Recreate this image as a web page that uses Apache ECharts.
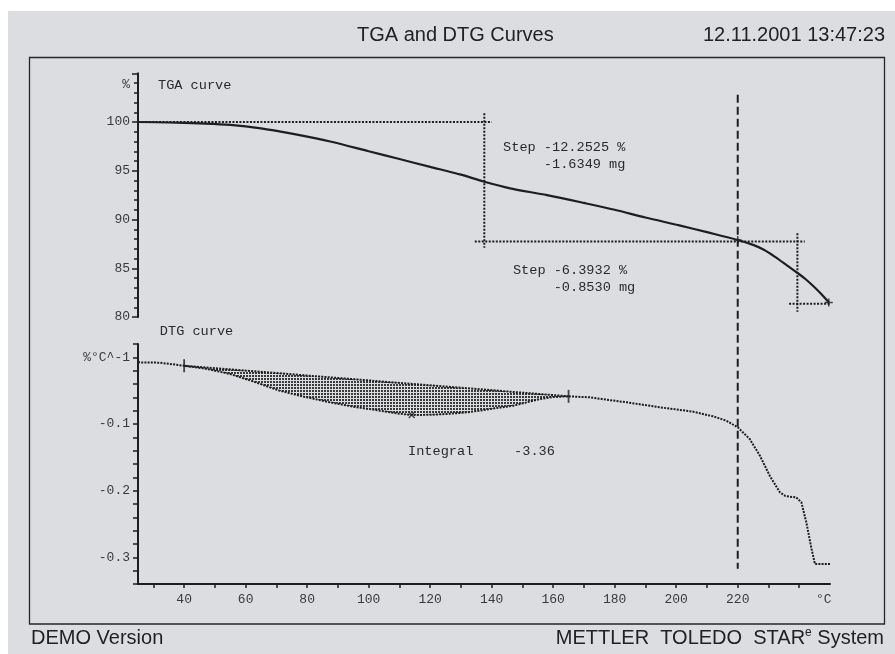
<!DOCTYPE html>
<html>
<head>
<meta charset="utf-8">
<script src="https://cdn.jsdelivr.net/npm/echarts@6/dist/echarts.min.js"></script>
<style>
  html, body { margin: 0; padding: 0; background: #ffffff; }
  #c { width: 895px; height: 654px; }
</style>
</head>
<body>
<div id="c"></div>
<script>
// ---- TGA curve: sample temperature (°C) vs. remaining mass (%)
const tgaTemp = [25, 35, 45, 55, 65, 75, 87.5, 100, 110, 120, 130, 137.3, 146, 158, 170, 180, 190, 201, 210, 220, 225, 228.5, 232, 236, 239.5, 242, 244.8, 247, 249.6];
const tgaMass = [100.0, 99.95, 99.85, 99.7, 99.35, 98.8, 98.0, 97.0, 96.2, 95.4, 94.6, 93.9, 93.2, 92.5, 91.7, 91.0, 90.2, 89.4, 88.7, 87.9, 87.4, 86.9, 86.2, 85.3, 84.5, 83.9, 83.1, 82.4, 81.5];

// ---- DTG curve: temperature (°C) vs. rate of mass change (% °C^-1)
const dtgTemp = [25, 32, 40, 47, 55, 63, 71, 79, 87.4, 95, 103.6, 110, 114, 120, 125.3, 131, 136, 141, 147, 151, 155.6, 160, 165, 172, 178, 184, 194.7, 205.5, 212, 216.3, 220, 223.9, 227.2, 230.4, 233.7, 235.5, 237, 239, 240.7, 242.3, 244, 245.1, 250];
const dtgRate = [-0.0075, -0.008, -0.0126, -0.017, -0.025, -0.037, -0.050, -0.059, -0.0675, -0.074, -0.080, -0.0845, -0.0865, -0.0862, -0.085, -0.083, -0.080, -0.0765, -0.0725, -0.068, -0.0625, -0.0595, -0.0585, -0.060, -0.064, -0.0675, -0.075, -0.0815, -0.0885, -0.095, -0.105, -0.1225, -0.1475, -0.1775, -0.2025, -0.208, -0.209, -0.210, -0.2175, -0.2475, -0.2875, -0.31, -0.31];

// ---- evaluation results
const integralLimits = [40, 165];          // integration range on the DTG peak (°C)
const dtgPeak = [[114, -0.0865]];          // peak marker
const tgaStepLines = [                      // step evaluation construction lines [°C, %]
  [[22.7, 100], [140, 100]],
  [[137.6, 100.9], [137.6, 87.1]],
  [[134.5, 87.75], [241.8, 87.75]],
  [[239.4, 88.6], [239.4, 80.55]],
  [[236.7, 81.36], [252.6, 81.36]]
];
const tgaMarks = [[220, 87.9], [249.6, 81.5]];
const cursorTemp = 220;                     // vertical cursor
const cursorTop = 102.8;                    // in % (TGA scale)
const cursorBottom = -0.317;                // in % °C^-1 (DTG scale)

// ---- tick values and labels
const xTickValues = [30, 40, 50, 60, 70, 80, 90, 100, 110, 120, 130, 140, 150, 160, 170, 180, 190, 200, 210, 220, 230, 240];
const xTickLabels = [40, 60, 80, 100, 120, 140, 160, 180, 200, 220];
const xUnitPos = 248;
const tgaTickLabels = [80, 85, 90, 95, 100];
const dtgTickLabels = [-0.1, -0.2, -0.3];

// ---- annotation texts, anchored in data coordinates
const stepTexts = [
  { grid: 0, at: [143.7, 97.44], text: 'Step -12.2525 %\n     -1.6349 mg' },
  { grid: 0, at: [146.9, 84.82], text: 'Step -6.3932 %\n     -0.8530 mg' }
];
const panelTitles = [
  { grid: 0, at: [31.5, 103.8], text: 'TGA curve' },
  { grid: 1, at: [32.1, 0.0394], text: 'DTG curve' },
  { grid: 1, at: [112.8, -0.1415], text: 'Integral     -3.36' }
];

const MONO = '"Liberation Mono", "DejaVu Sans Mono", monospace';
const SANS = '"Liberation Sans", Arial, sans-serif';
const INK = '#1e1e1e';
const LABEL = '#3a3a3a';

const pairs = (xs, ys) => xs.map((x, i) => [x, ys[i]]);
const tgaPts = pairs(tgaTemp, tgaMass);
const dtgPts = pairs(dtgTemp, dtgRate);
const areaPts = dtgPts.filter(p => p[0] >= integralLimits[0] && p[0] <= integralLimits[1]);
const baseline = [areaPts[0], areaPts[areaPts.length - 1]];

// halftone dot pattern for the integrated area
const dots = document.createElement('canvas');
dots.width = 3; dots.height = 3;
const dctx = dots.getContext('2d');
dctx.fillStyle = '#3a3a3a';
dctx.fillRect(0, 0, 2, 2);
const dotFill = { image: dots, repeat: 'repeat' };

const chart = echarts.init(document.getElementById('c'), null, { renderer: 'canvas' });

const tickStyle = { color: INK, width: 1.5 };
const labelStyle = { fontFamily: MONO, fontSize: 13, color: LABEL };

const stepSeries = tgaStepLines.map((seg, i) => ({
  type: 'line', name: 'step' + i, xAxisIndex: 0, yAxisIndex: 0,
  data: seg, showSymbol: false, clip: false, silent: true, z: 3,
  lineStyle: { color: INK, width: 2, type: [2, 1.5] }
}));

chart.setOption({
  animation: false,
  backgroundColor: 'transparent',
  grid: [
    { left: 138, width: 692, top: 73.25, height: 243.75, containLabel: false, outerBoundsMode: 'none' },
    { left: 138, width: 692, top: 344, height: 240, containLabel: false, outerBoundsMode: 'none' }
  ],
  xAxis: [
    { gridIndex: 0, type: 'value', min: 25, max: 250, show: false },
    {
      gridIndex: 1, type: 'value', min: 25, max: 250, position: 'bottom',
      axisLine: { show: true, onZero: false, lineStyle: { color: INK, width: 2 } },
      axisTick: { show: true, customValues: xTickValues, length: 4, lineStyle: tickStyle },
      axisLabel: Object.assign({
        customValues: xTickLabels.concat([xUnitPos]),
        formatter: v => (v === xUnitPos ? '°C' : String(v)),
        margin: 9
      }, labelStyle),
      splitLine: { show: false }
    }
  ],
  yAxis: [
    {
      gridIndex: 0, type: 'value', min: 80, max: 105, interval: 5,
      axisLine: { show: true, onZero: false, lineStyle: { color: INK, width: 2 } },
      axisTick: { show: true, length: 6, lineStyle: tickStyle },
      minorTick: { show: true, splitNumber: 5, length: 4, lineStyle: tickStyle },
      axisLabel: Object.assign({ customValues: tgaTickLabels, margin: 8 }, labelStyle),
      splitLine: { show: false }, minorSplitLine: { show: false }
    },
    {
      gridIndex: 1, type: 'value', min: -0.34, max: 0.02, interval: 0.02,
      axisLine: { show: true, onZero: false, lineStyle: { color: INK, width: 2 } },
      axisTick: { show: true, length: 5, lineStyle: tickStyle },
      axisLabel: Object.assign({ customValues: dtgTickLabels, margin: 8, formatter: v => v.toFixed(1) }, labelStyle),
      splitLine: { show: false }
    }
  ],
  series: [
    // integrated area between DTG curve and its linear baseline
    {
      type: 'custom', name: 'integral', xAxisIndex: 1, yAxisIndex: 1,
      data: [areaPts[0]], silent: true, z: 1,
      renderItem: (params, api) => ({
        type: 'polygon',
        shape: { points: areaPts.map(p => api.coord(p)) },
        style: { fill: dotFill, stroke: null }
      })
    },
    {
      type: 'line', name: 'baseline', xAxisIndex: 1, yAxisIndex: 1, data: baseline,
      showSymbol: false, silent: true, z: 3,
      lineStyle: { color: INK, width: 2, type: [2, 1.2] }
    },
    {
      type: 'line', name: 'DTG', xAxisIndex: 1, yAxisIndex: 1, data: dtgPts,
      showSymbol: false, silent: true, z: 4,
      lineStyle: { color: INK, width: 2, type: [2, 1.2] }
    },
    {
      type: 'line', name: 'TGA', xAxisIndex: 0, yAxisIndex: 0, data: tgaPts,
      showSymbol: false, smooth: 0.3, silent: true, z: 4,
      lineStyle: { color: INK, width: 2.2 }
    },
    ...stepSeries,
    {
      type: 'scatter', name: 'limits', xAxisIndex: 1, yAxisIndex: 1, data: baseline,
      symbol: 'rect', symbolSize: [1.8, 13], silent: true, z: 5,
      itemStyle: { color: INK }
    },
    {
      type: 'scatter', name: 'peak', xAxisIndex: 1, yAxisIndex: 1, data: dtgPeak,
      symbol: 'path://M0,0L10,10M10,0L0,10', symbolSize: 6, silent: true, z: 5,
      itemStyle: { color: 'none', borderColor: INK, borderWidth: 1.3 }
    },
    {
      type: 'scatter', name: 'tgaMarks', xAxisIndex: 0, yAxisIndex: 0, data: tgaMarks,
      symbol: 'path://M0,5L10,5M5,0L5,10', symbolSize: 8, silent: true, z: 5,
      itemStyle: { color: 'none', borderColor: INK, borderWidth: 1.5 }
    }
  ]
});

// ---- texts, frame and cursor line (positions through the axes' scales)
const px = (grid, pt) => chart.convertToPixel({ gridIndex: grid }, pt);

function textEl(x, y, text, font, align, vAlign, extra) {
  return {
    type: 'text', x: x, y: y, z: 20, silent: true,
    style: Object.assign({
      text: text, font: font, fill: '#222',
      align: align, textAlign: align,
      verticalAlign: vAlign, textVerticalAlign: vAlign
    }, extra || {})
  };
}

const graphics = [];
graphics.push({ type: 'rect', z: -10, silent: true, shape: { x: 8, y: 11, width: 887, height: 643 }, style: { fill: '#dcdde0' } });
graphics.push({ type: 'rect', z: 0, silent: true, shape: { x: 29.5, y: 57.5, width: 855, height: 566.5 }, style: { fill: null, stroke: '#262626', lineWidth: 1.3 } });

graphics.push(textEl(357, 35, 'TGA and DTG Curves', '20px ' + SANS, 'left', 'middle'));
graphics.push(textEl(885, 35, '12.11.2001 13:47:23', '20px ' + SANS, 'right', 'middle'));
graphics.push(textEl(31, 638, 'DEMO Version', '20px ' + SANS, 'left', 'middle'));
graphics.push({
  type: 'text', x: 884, y: 638, z: 20, silent: true,
  style: {
    text: '{a|METTLER  TOLEDO  STAR}{s|e}{a| System}',
    align: 'right', textAlign: 'right', verticalAlign: 'middle', textVerticalAlign: 'middle',
    rich: {
      a: { fontFamily: SANS, fontSize: 20, fill: '#222', color: '#222', lineHeight: 22 },
      s: { fontFamily: SANS, fontSize: 12, fill: '#222', color: '#222', lineHeight: 22, verticalAlign: 'top', padding: [0, 0, 10, 0] }
    }
  }
});

// axis unit captions
const tgaUnit = px(0, [25, 103.8]);
graphics.push(textEl(tgaUnit[0] - 8, tgaUnit[1], '%', '13px ' + MONO, 'right', 'middle', { fill: LABEL }));
const dtgUnit = px(1, [25, 0]);
graphics.push(textEl(dtgUnit[0] - 8, dtgUnit[1], '%°C^-1', '13px ' + MONO, 'right', 'middle', { fill: LABEL }));

panelTitles.forEach(t => {
  const p = px(t.grid, t.at);
  graphics.push(textEl(p[0], p[1], t.text, '13.6px ' + MONO, 'left', 'middle', { fill: '#2a2a2a' }));
});
stepTexts.forEach(t => {
  const p = px(t.grid, t.at);
  graphics.push(textEl(p[0], p[1] - 8.5, t.text, '13.6px ' + MONO, 'left', 'top', { fill: '#2a2a2a', lineHeight: 17 }));
});

const cTop = px(0, [cursorTemp, cursorTop]);
const cBot = px(1, [cursorTemp, cursorBottom]);
graphics.push({
  type: 'line', z: 15, silent: true,
  shape: { x1: cTop[0], y1: cTop[1], x2: cBot[0], y2: cBot[1] },
  style: { stroke: INK, lineWidth: 2, lineDash: [8, 4] }
});

chart.setOption({ graphic: graphics });
</script>
</body>
</html>
